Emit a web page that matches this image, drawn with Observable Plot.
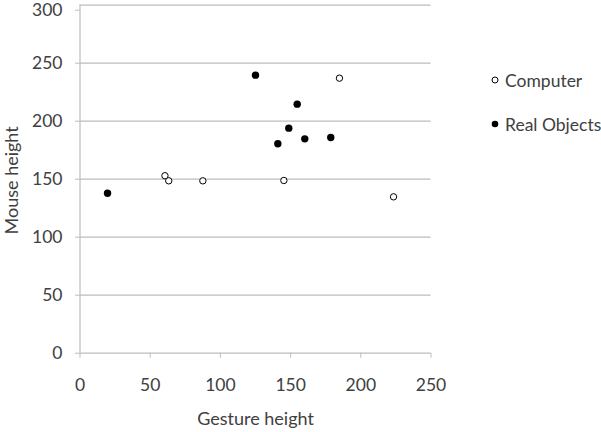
<!DOCTYPE html>
<html>
<head>
<meta charset="utf-8">
<script src="https://cdn.jsdelivr.net/npm/d3@7"></script>
<script src="https://cdn.jsdelivr.net/npm/@observablehq/plot@0.6"></script>
<style>
  html, body { margin: 0; padding: 0; background: #fff; }
  #wrap { position: relative; width: 601px; height: 432px; font-family: Lato, "Open Sans", sans-serif; color: #404040; }
  #legend { position: absolute; left: 489px; top: 58px; font-size: 17.5px; white-space: nowrap; width: 112px; }
  .item { display: flex; align-items: center; height: 44px; white-space: nowrap; }
  .item svg { margin-right: 4px; flex: none; }
</style>
</head>
<body>
<div id="wrap"></div>
<script>
const seriesNames = ["Computer", "Real Objects"];
const computerX = [60.5, 63.2, 87.5, 145.2, 184.8, 223.3];
const computerY = [153, 148.6, 148.6, 148.9, 237.1, 134.8];
const realX = [19.6, 125, 154.7, 148.7, 140.9, 160.1, 178.6];
const realY = [137.9, 239.7, 214.7, 194.0, 180.5, 184.8, 186.0];
const xTicks = [0, 50, 100, 150, 200, 250];
const yTicks = [0, 50, 100, 150, 200, 250, 300];
const xLabel = "Gesture height";
const yLabel = "Mouse height";

const data = [
  ...computerX.map((x, i) => ({x, y: computerY[i], s: seriesNames[0]})),
  ...realX.map((x, i) => ({x, y: realY[i], s: seriesNames[1]}))
];

const grid = "#bdbdbd";
const txt = "#404040";
const font = "Lato, 'Open Sans', sans-serif";

const chart = Plot.plot({
  width: 601,
  height: 432,
  marginLeft: 79.5,
  marginRight: 170.5,
  marginTop: 4.7,
  marginBottom: 79.3,
  style: {fontFamily: font, fontSize: "17.5px", color: txt, background: "#fff"},
  x: {domain: [0, 250]},
  y: {domain: [0, 300]},
  marks: [
    Plot.ruleY(yTicks, {stroke: grid, strokeWidth: 1.2, x1: 0, x2: 250}),
    Plot.ruleX([0], {stroke: grid, strokeWidth: 1.2}),
    Plot.axisY(yTicks.slice(0, -1), {tickSize: 4.5, tickPadding: 13, stroke: grid, fill: txt, label: null}),
    Plot.axisY(yTicks.slice(-1), {tickSize: 4.5, tickPadding: 13, stroke: grid, fill: txt, label: null, dy: 5}),
    Plot.axisX({ticks: xTicks, tickSize: 5, tickPadding: 20, stroke: grid, fill: txt, label: null}),
    Plot.text([xLabel], {frameAnchor: "bottom", dy: 72, x: 125, fill: txt, fontSize: 18}),
    Plot.text([yLabel], {frameAnchor: "left", textAnchor: "middle", dx: -68, y: 149, rotate: -90, fill: txt, fontSize: 18}),
    Plot.dot(data.filter(d => d.s === seriesNames[0]), {x: "x", y: "y", r: 3.2, stroke: "#000", strokeWidth: 1, fill: "#fff"}),
    Plot.dot(data.filter(d => d.s === seriesNames[1]), {x: "x", y: "y", r: 3.7, fill: "#000", stroke: "none"})
  ]
});

const wrap = document.getElementById("wrap");
wrap.appendChild(chart);

const legend = document.createElement("div");
legend.id = "legend";
seriesNames.forEach((name, i) => {
  const item = document.createElement("div");
  item.className = "item";
  const filled = i === 1;
  item.innerHTML = `<svg width="12" height="12"><circle cx="6" cy="6" r="${filled ? 3.3 : 3}" fill="${filled ? '#000' : '#fff'}" stroke="#000" stroke-width="${filled ? 0 : 1}"/></svg><span>${name}</span>`;
  legend.appendChild(item);
});
wrap.appendChild(legend);
</script>
</body>
</html>
